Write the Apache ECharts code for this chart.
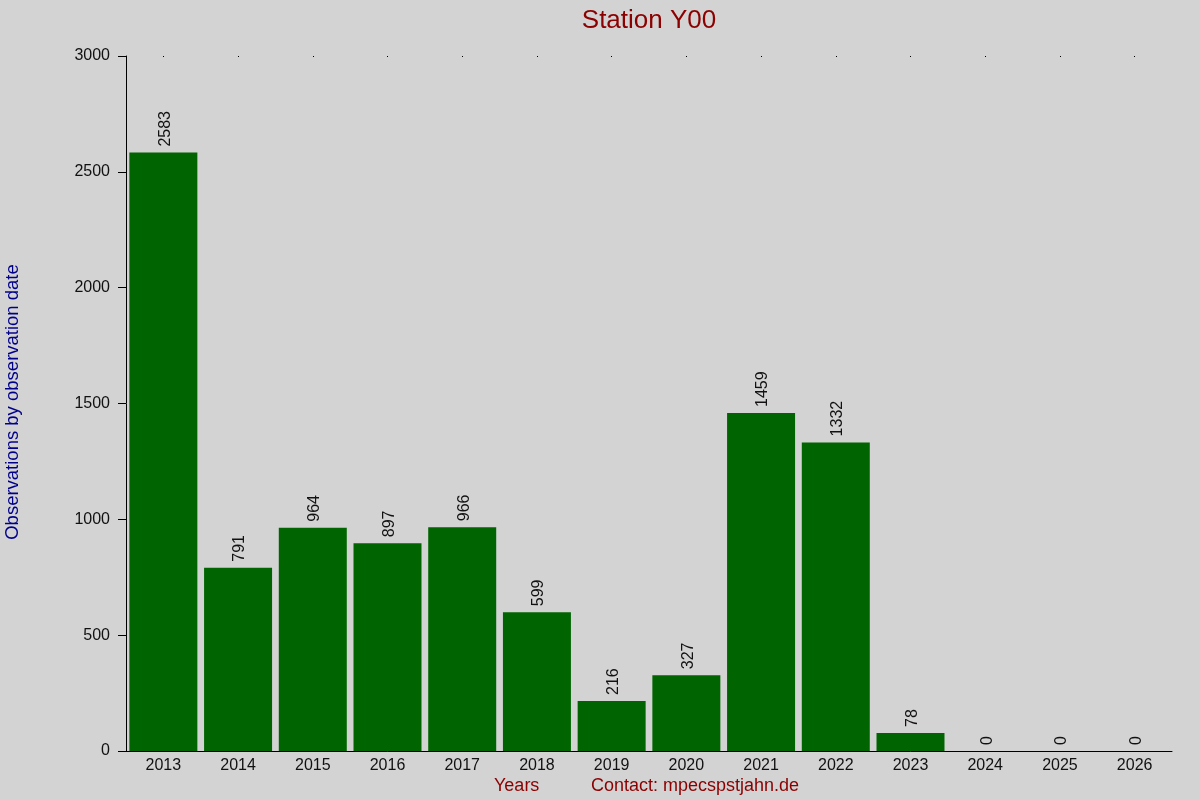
<!DOCTYPE html>
<html><head><meta charset="utf-8">
<script src="https://cdn.jsdelivr.net/npm/echarts@6/dist/echarts.min.js"></script>
<style>html,body{margin:0;padding:0;background:#d3d3d3}#c{width:1200px;height:800px}</style>
</head><body><div id="c"></div>
<script>
const years = ['2013','2014','2015','2016','2017','2018','2019','2020','2021','2022','2023','2024','2025','2026'];
const observations = [2583, 791, 964, 897, 966, 599, 216, 327, 1459, 1332, 78, 0, 0, 0];
const yTicks = [0, 500, 1000, 1500, 2000, 2500, 3000];

const chart = echarts.init(document.getElementById('c'));
const font = 'Liberation Sans, Arial, sans-serif';
chart.setOption({
  backgroundColor: '#d3d3d3',
  animation: false,
  title: {text: 'Station Y00', left: 644, top: 3, textAlign: 'center',
    textStyle: {color: '#8b0000', fontSize: 26, fontWeight: 'normal', fontFamily: font}},
  grid: {left: 126, right: 28, top: 56, bottom: 49, containLabel: false},
  graphic: [
    {type: 'text', left: 494, top: 777, style: {text: 'Years', fill: '#8b0000', font: '18px ' + font}},
    {type: 'text', left: 591, top: 777, style: {text: 'Contact: mpecspstjahn.de', fill: '#8b0000', font: '18px ' + font}},
    {type: 'text', x: 3, y: 402, rotation: Math.PI/2, style: {text: 'Observations by observation date', fill: '#00008b', font: '18.5px ' + font, align: 'center', verticalAlign: 'top'}}
  ],
  xAxis: [{
    type: 'category', data: years, position: 'bottom',
    axisLine: {show: true, lineStyle: {color: '#000', width: 1}},
    axisTick: {show: false},
    axisLabel: {color: '#111', fontSize: 16, fontFamily: font, margin: 7}
  }, {
    type: 'category', data: years, position: 'top',
    axisLine: {show: false},
    axisTick: {show: true, alignWithLabel: true, length: 1, inside: true, lineStyle: {color: '#000'}},
    axisLabel: {show: false}
  }],
  yAxis: {
    type: 'value', min: yTicks[0], max: yTicks[yTicks.length-1], interval: 500,
    axisLine: {show: true, lineStyle: {color: '#000', width: 1}},
    axisTick: {show: true, length: 8, lineStyle: {color: '#000'}},
    splitLine: {show: false},
    axisLabel: {color: '#111', fontSize: 16, fontFamily: font, margin: 16, formatter: v => String(v)}
  },
  series: [{
    type: 'bar', data: observations, xAxisIndex: 0,
    barCategoryGap: '9%',
    itemStyle: {color: '#006400'},
    label: {show: true, position: 'top', rotate: 90, distance: 6, align: 'left', verticalAlign: 'middle',
      offset: [0, 2], color: '#111', fontSize: 16, fontFamily: font}
  }]
});
</script></body></html>
